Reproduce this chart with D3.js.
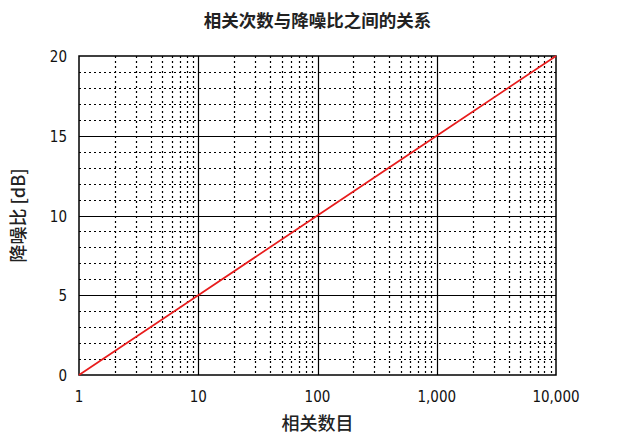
<!DOCTYPE html>
<html><head><meta charset="utf-8">
<script src="https://cdn.jsdelivr.net/npm/d3@7"></script>
<style>body{margin:0;background:#fff}svg{display:block}</style>
</head><body>
<script>
const title = "相关次数与降噪比之间的关系";
const xLabel = "相关数目";
const yLabel = "降噪比 [dB]";
const xTicks = [1, 10, 100, 1000, 10000];
const xTickLabels = ["1", "10", "100", "1,000", "10,000"];
const yTicks = [0, 5, 10, 15, 20];
const lineX = [1, 10, 100, 1000, 10000];
const lineY = [0, 5, 10, 15, 20];

const W = 628, H = 437;
const m = {left: 79, right: 72, top: 56, bottom: 62};
const svg = d3.select("body").append("svg").attr("width", W).attr("height", H);
const x = d3.scaleLog().domain([1, 10000]).range([m.left, W - m.right]);
const y = d3.scaleLinear().domain([0, 20]).range([H - m.bottom, m.top]);
const g = svg.append("g");
const font = "'Liberation Sans Narrow','DejaVu Sans Condensed','Noto Sans CJK SC',sans-serif";

// minor x grid
const minorX = [];
for (let d = 1; d < 10000; d *= 10) for (let k = 2; k <= 9; k++) minorX.push(d * k);
g.selectAll(".mx").data(minorX).enter().append("line")
  .attr("x1", d => Math.round(x(d)) + 0.5).attr("x2", d => Math.round(x(d)) + 0.5)
  .attr("y1", y(20)).attr("y2", y(0))
  .attr("stroke", "#000").attr("stroke-width", 1.2).attr("stroke-dasharray", "2,3");
// minor y grid
const minorY = d3.range(1, 20).filter(v => v % 5 !== 0);
g.selectAll(".my").data(minorY).enter().append("line")
  .attr("y1", d => Math.round(y(d)) + 0.5).attr("y2", d => Math.round(y(d)) + 0.5)
  .attr("x1", x(1)).attr("x2", x(10000))
  .attr("stroke", "#000").attr("stroke-width", 1.2).attr("stroke-dasharray", "2,3");
// major grid
g.selectAll(".Mx").data(xTicks.slice(1, -1)).enter().append("line")
  .attr("x1", d => Math.round(x(d)) + 0.5).attr("x2", d => Math.round(x(d)) + 0.5)
  .attr("y1", y(20)).attr("y2", y(0)).attr("stroke", "#000").attr("stroke-width", 1.2);
g.selectAll(".My").data(yTicks.slice(1, -1)).enter().append("line")
  .attr("y1", d => Math.round(y(d)) + 0.5).attr("y2", d => Math.round(y(d)) + 0.5)
  .attr("x1", x(1)).attr("x2", x(10000)).attr("stroke", "#000").attr("stroke-width", 1.2);
// frame
g.append("rect").attr("x", x(1)).attr("y", y(20)).attr("width", x(10000) - x(1)).attr("height", y(0) - y(20))
  .attr("fill", "none").attr("stroke", "#000").attr("stroke-width", 1.5);

// line
svg.append("path").datum(lineX.map((v, i) => [v, lineY[i]]))
  .attr("d", d3.line().x(d => x(d[0])).y(d => y(d[1])))
  .attr("fill", "none").attr("stroke", "#e81c1c").attr("stroke-width", 1.7);

// tick labels
svg.selectAll(".xt").data(xTicks).enter().append("text")
  .attr("x", d => x(d)).attr("y", y(0) + 27).attr("text-anchor", "middle")
  .attr("font-family", font).attr("font-size", 15).attr("fill", "#111")
  .text((d, i) => xTickLabels[i]);
svg.selectAll(".yt").data(yTicks).enter().append("text")
  .attr("x", x(1) - 12).attr("y", d => y(d) + 6).attr("text-anchor", "end")
  .attr("font-family", font).attr("font-size", 15).attr("fill", "#111")
  .text(d => d);

// titles
svg.append("text").attr("x", (x(1) + x(10000)) / 2).attr("y", 27).attr("text-anchor", "middle")
  .attr("font-family", "'Noto Sans CJK SC',sans-serif").attr("font-weight", "bold").attr("font-size", 17.5).attr("fill", "#222")
  .text(title);
svg.append("text").attr("x", (x(1) + x(10000)) / 2).attr("y", 430).attr("text-anchor", "middle")
  .attr("font-family", "'Noto Sans CJK SC',sans-serif").attr("font-weight", 500).attr("font-size", 18).attr("fill", "#222")
  .text(xLabel);
svg.append("text").attr("transform", `translate(25,${(y(0) + y(20)) / 2}) rotate(-90)`).attr("text-anchor", "middle")
  .attr("font-family", "'Noto Sans CJK SC',sans-serif").attr("font-weight", 500).attr("font-size", 18).attr("fill", "#222")
  .text(yLabel);
</script>
</body></html>
